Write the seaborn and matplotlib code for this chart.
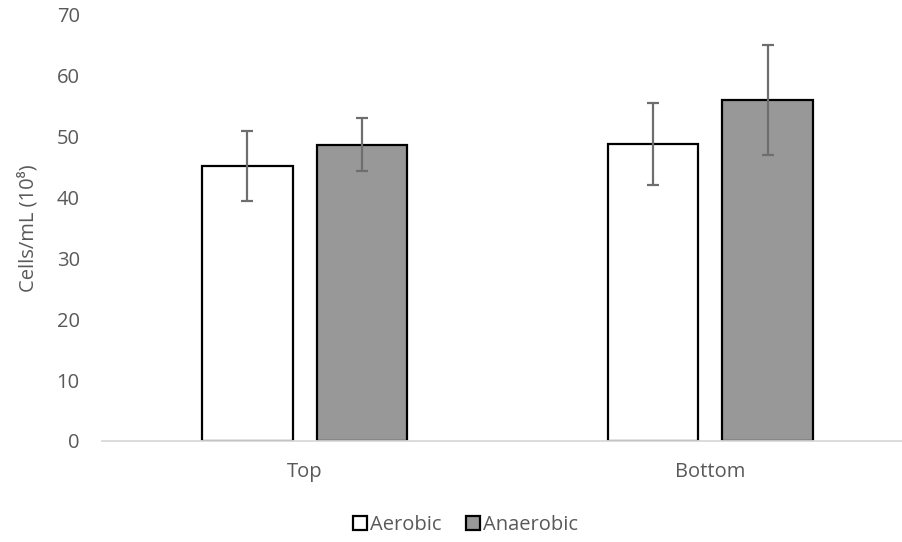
import pandas as pd
import seaborn as sns
from matplotlib import pyplot as plt

# values
positions = ["Top", "Bottom"]
conditions = ["Aerobic", "Anaerobic"]
aerobic_mean = [45.2, 48.8]
anaerobic_mean = [48.7, 56.0]
aerobic_err = [5.7, 6.8]
anaerobic_err = [4.4, 9.0]

df = pd.DataFrame({
    "Position": positions * 2,
    "Condition": [conditions[0]] * 2 + [conditions[1]] * 2,
    "Cells": aerobic_mean + anaerobic_mean,
    "Err": aerobic_err + anaerobic_err,
})

sns.set_style("white")
plt.rcParams['font.family'] = ['Open Sans', 'DejaVu Sans']
text_col = "#595959"
fs = 14.5

fig = plt.figure(figsize=(9.02, 5.42), dpi=100)
ax = fig.add_axes([102 / 902, 1 - 441 / 542, 811 / 902, 426 / 542])

sns.barplot(data=df, x="Position", y="Cells", hue="Condition", order=positions,
            hue_order=conditions, palette=["white", "#989898"], width=0.566, gap=0.21,
            edgecolor="black", linewidth=1.6, errorbar=None, legend=True, ax=ax)

# error bars on top of each bar, from the patch centres
for bar, (_, row) in zip(ax.patches, df.iterrows()):
    cx = bar.get_x() + bar.get_width() / 2
    ax.errorbar(cx, row["Cells"], yerr=row["Err"], fmt="none", ecolor="#6e6e6e",
                elinewidth=1.6, capsize=4.3, capthick=1.6, zorder=5)

ax.set_ylim(0, 70)
ax.set_yticks(range(0, 71, 10))
ax.set_xlim(-0.5, 1.5)
ax.set_xlabel("")
ax.set_ylabel("Cells/mL (10⁸)", fontsize=fs, color=text_col)
ax.yaxis.set_label_coords(-0.078, 0.5)
ax.tick_params(axis="both", length=0, labelsize=fs, colors=text_col)
ax.tick_params(axis="x", pad=15)
ax.tick_params(axis="y", pad=16)
for s in ["top", "right", "left"]:
    ax.spines[s].set_visible(False)
ax.spines["bottom"].set_color("#d9d9d9")
ax.spines["bottom"].set_linewidth(1.3)

handles, labels = ax.get_legend_handles_labels()
ax.legend_.remove()
leg = fig.legend(handles, labels, loc="center", bbox_to_anchor=(465.5 / 902, 1 - 525 / 542),
                 ncol=2, frameon=False, fontsize=fs, handlelength=0.7, handleheight=0.7,
                 handletextpad=0.15, columnspacing=1.2)
for t in leg.get_texts():
    t.set_color(text_col)

fig.savefig("out.png", dpi=100)
